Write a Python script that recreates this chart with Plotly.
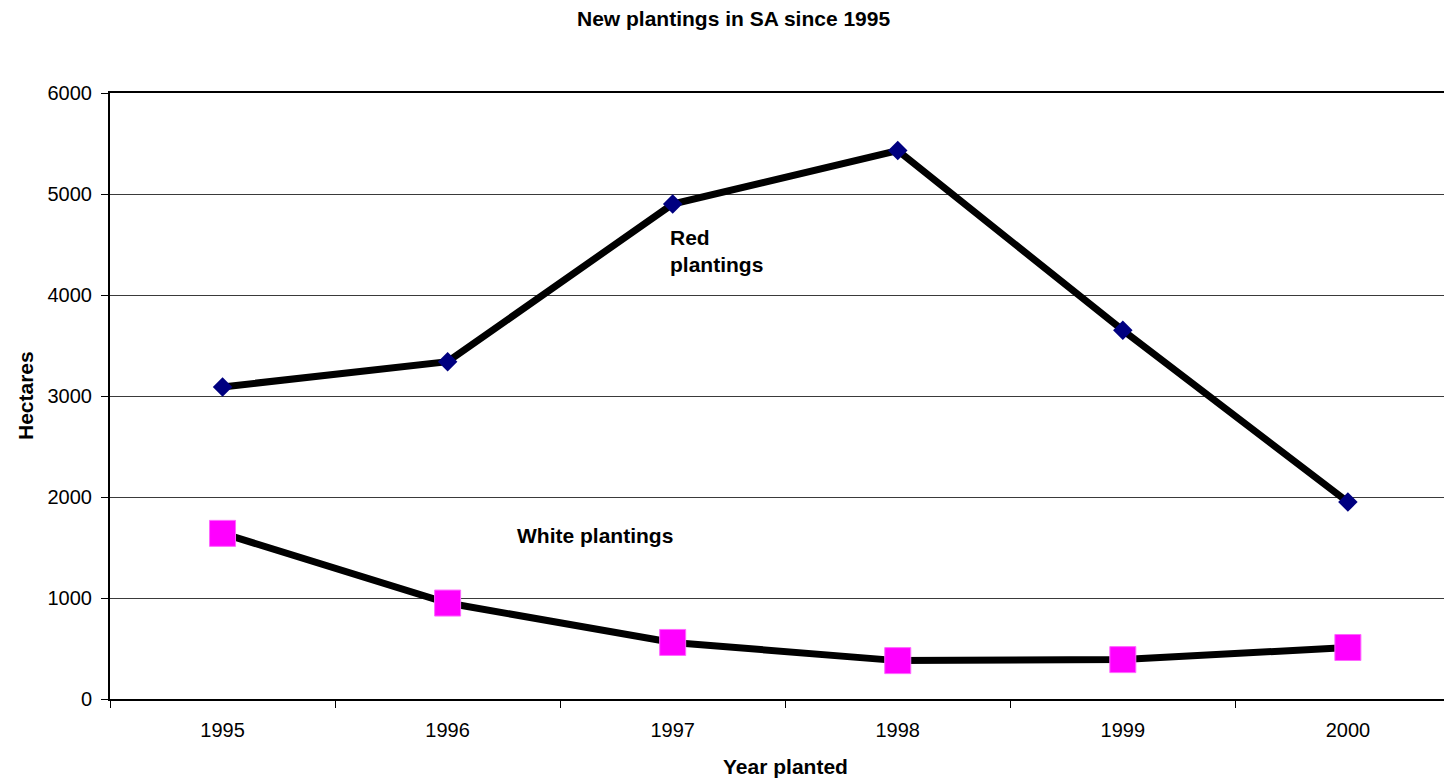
import plotly.graph_objects as go

# Vineyard plantings by year (hectares)
years = ["1995", "1996", "1997", "1998", "1999", "2000"]
red_plantings = [3090, 3340, 4900, 5430, 3650, 1950]
white_plantings = [1640, 950, 560, 380, 390, 510]

FONT = "Liberation Sans, Arial, sans-serif"

fig = go.Figure()

fig.add_trace(go.Scatter(
    x=years, y=red_plantings, mode="lines+markers", name="Red plantings",
    line=dict(color="black", width=7),
    marker=dict(symbol="diamond", size=15, color="#000080",
                line=dict(color="#000080", width=0)),
    cliponaxis=False,
))
fig.add_trace(go.Scatter(
    x=years, y=white_plantings, mode="lines+markers", name="White plantings",
    line=dict(color="black", width=7),
    marker=dict(symbol="square", size=26, color="#FF00FF",
                line=dict(color="#FF66FF", width=1)),
    cliponaxis=False,
))

fig.update_layout(
    width=1444, height=782,
    margin=dict(l=110, r=0, t=93, b=83),
    paper_bgcolor="white", plot_bgcolor="white",
    showlegend=False,
    font=dict(family=FONT, size=20, color="black"),
    xaxis=dict(
        type="category", range=[-0.5, 5.427],
        tickson="boundaries", ticks="outside", ticklen=7, tickwidth=1, tickcolor="black",
        showline=True, linecolor="black", linewidth=2, mirror=True,
        showgrid=False, zeroline=False,
        tickfont=dict(family=FONT, size=20),
        ticklabelstandoff=12,
    ),
    yaxis=dict(
        range=[0, 6000], dtick=1000, ticks="outside", ticklen=7, tickwidth=1, tickcolor="black",
        showline=True, linecolor="black", linewidth=2,
        showgrid=True, gridcolor="#3a3a3a", gridwidth=1, zeroline=False,
        tickfont=dict(family=FONT, size=20),
        ticklabelstandoff=5,
    ),
    annotations=[
        dict(text="<b>New plantings in SA since 1995</b>", xref="paper", yref="paper",
             x=(733 - 110) / 1334, y=1, yshift=75, xanchor="center", yanchor="middle",
             showarrow=False, font=dict(family=FONT, size=21)),
        dict(text="<b>Year planted</b>", xref="paper", yref="paper",
             x=(785 - 110) / 1334, y=0, yshift=-67, xanchor="center", yanchor="middle",
             showarrow=False, font=dict(family=FONT, size=21)),
        dict(text="<b>Hectares</b>", xref="paper", yref="paper",
             x=0, xshift=-85, y=(699 - 396) / 606, textangle=-90,
             xanchor="center", yanchor="middle",
             showarrow=False, font=dict(family=FONT, size=21)),
        dict(text="<b>Red<br>plantings</b>", xref="x", yref="paper",
             x=2, xshift=-5, y=(699 - 251) / 606, xanchor="left", yanchor="middle",
             align="left", showarrow=False, font=dict(family=FONT, size=21)),
        dict(text="<b>White plantings</b>", xref="x", yref="paper",
             x=1.3, xshift=0, y=(699 - 535) / 606, xanchor="left", yanchor="middle",
             align="left", showarrow=False, font=dict(family=FONT, size=21)),
    ],
)

fig.write_html("out.html")
